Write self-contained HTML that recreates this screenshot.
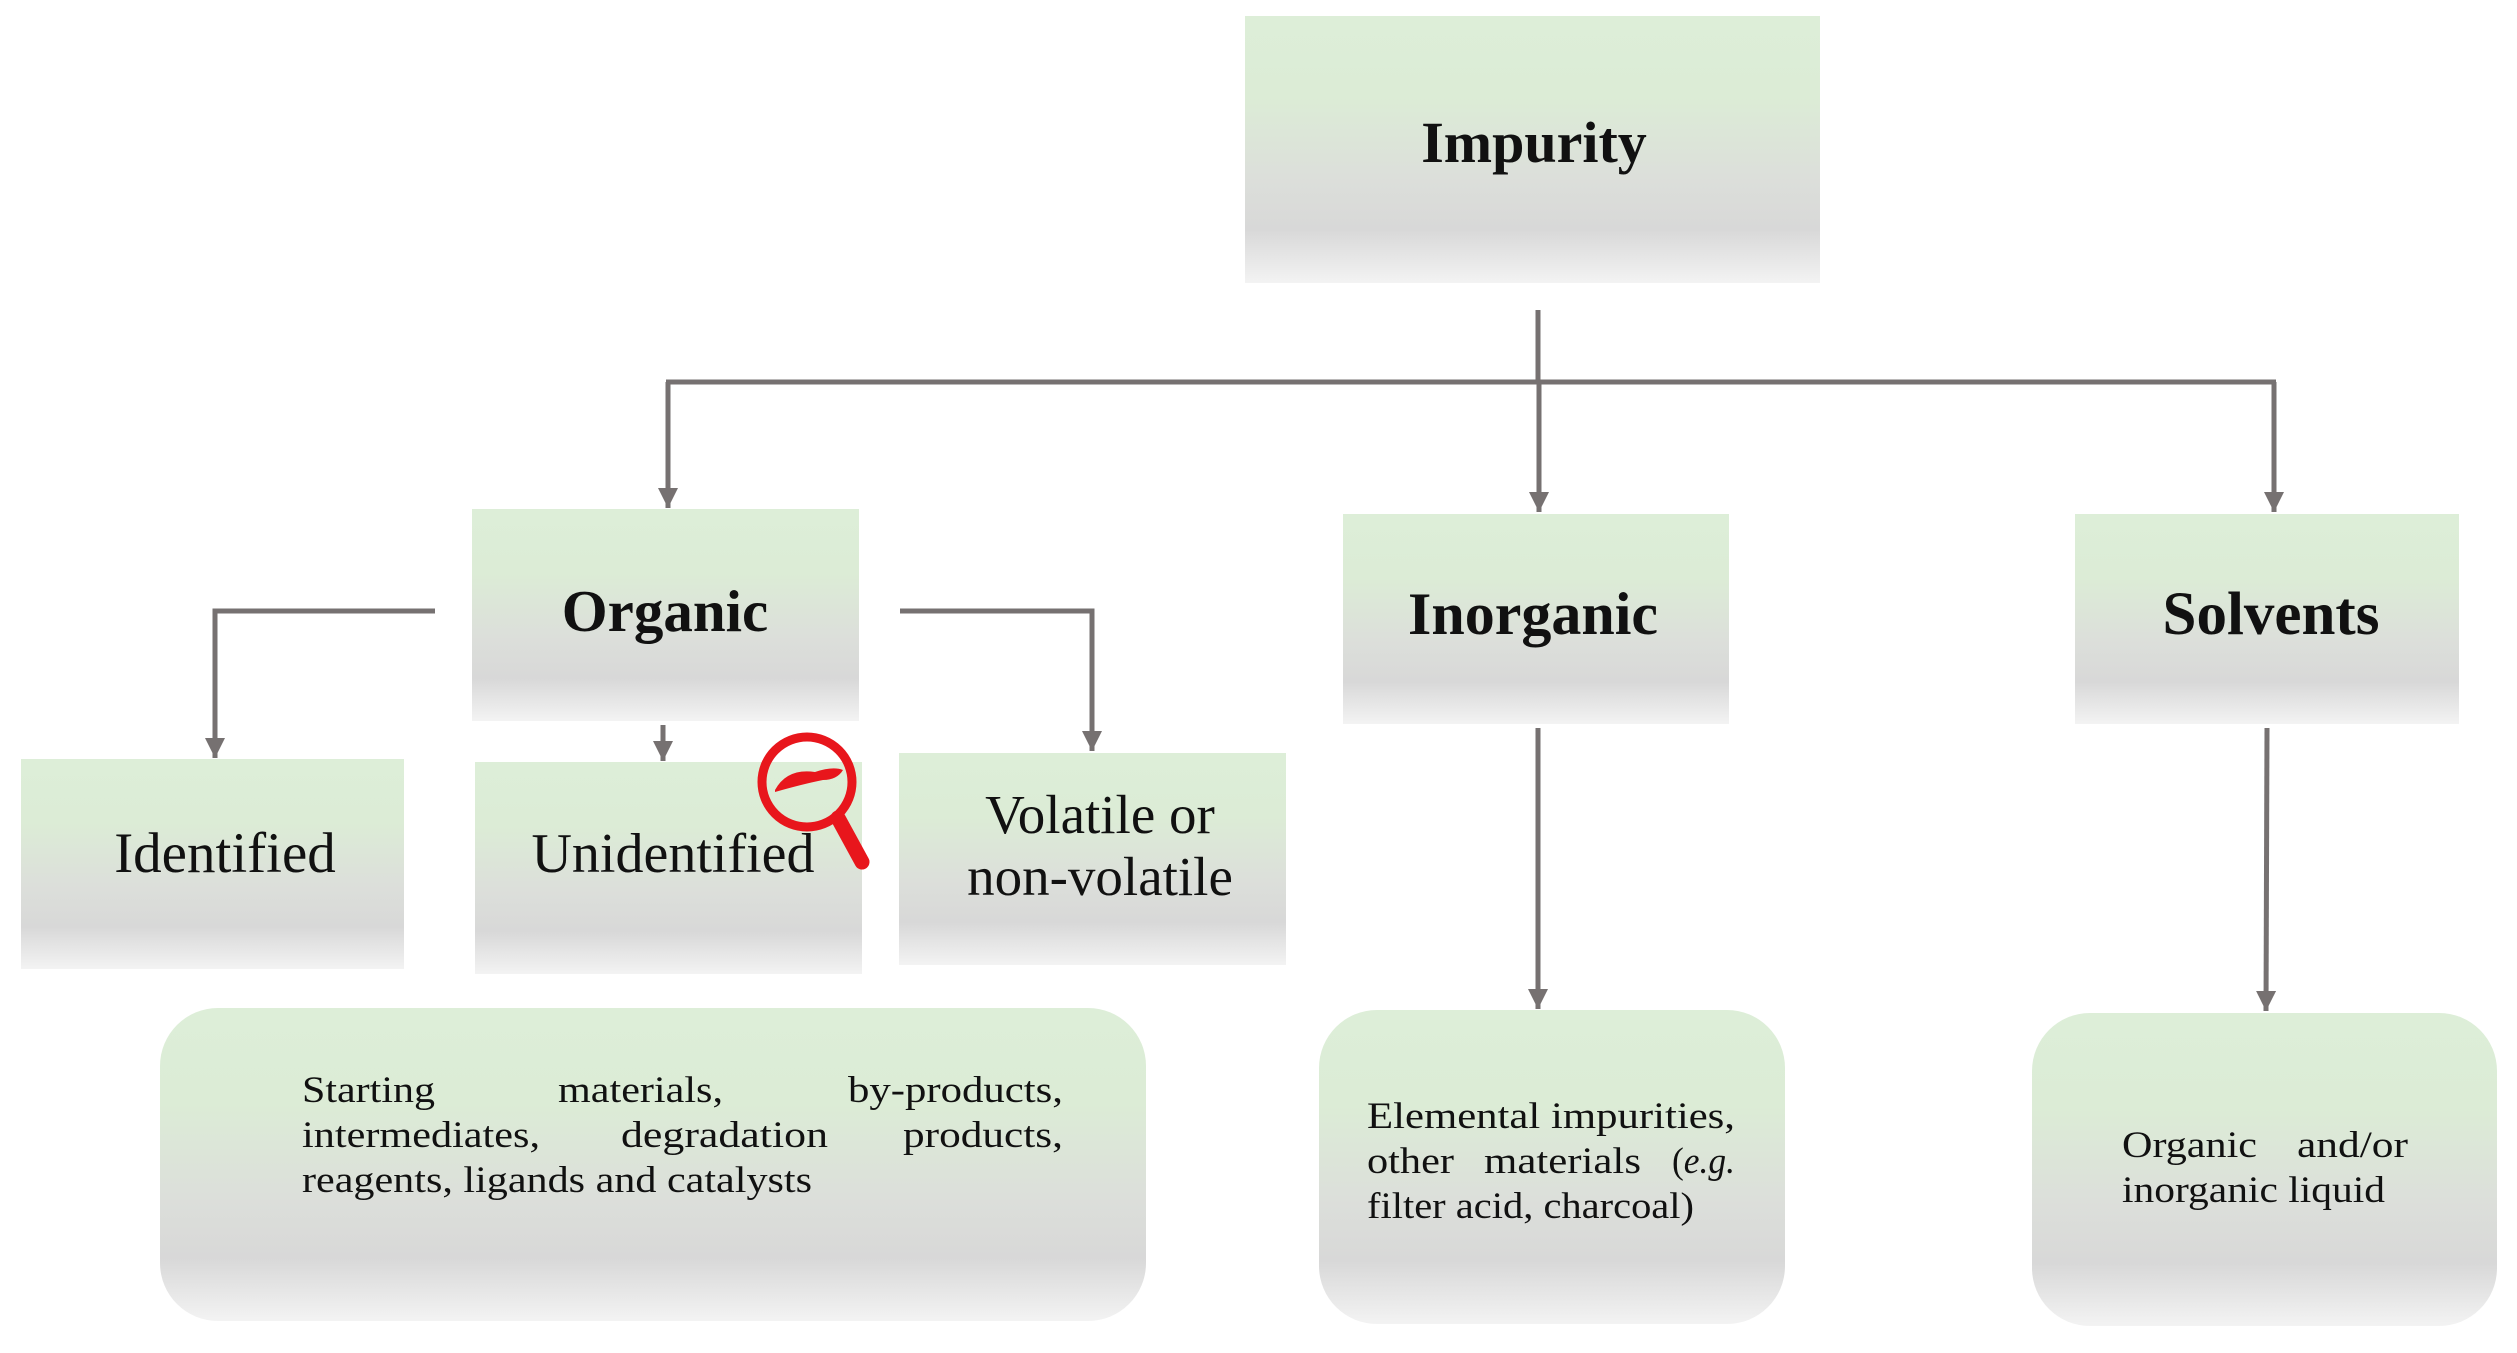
<!DOCTYPE html>
<html><head><meta charset="utf-8"><style>
html,body{margin:0;padding:0;background:#fff;}
svg{display:block;}
text{font-family:"Liberation Serif",serif;fill:#111;}
</style></head><body>
<svg width="2517" height="1353" viewBox="0 0 2517 1353" xmlns="http://www.w3.org/2000/svg">
<defs>
<linearGradient id="g" x1="0" y1="0" x2="0" y2="1">
<stop offset="0" stop-color="#ddeed8"/>
<stop offset="0.3" stop-color="#dcecd6"/>
<stop offset="0.6" stop-color="#dcdfda"/>
<stop offset="0.8" stop-color="#d8d8d8"/>
<stop offset="1" stop-color="#f3f3f3"/>
</linearGradient>
<marker id="a" viewBox="0 0 10 10" refX="10" refY="5" markerWidth="4" markerHeight="4" orient="auto" markerUnits="strokeWidth">
<path d="M0,0 L10,5 L0,10 z" fill="#767171"/>
</marker>
</defs>
<rect x="1245" y="16" width="575" height="267" fill="url(#g)"/>
<rect x="472" y="509" width="387" height="212" fill="url(#g)"/>
<rect x="1343" y="514" width="386" height="210" fill="url(#g)"/>
<rect x="2075" y="514" width="384" height="210" fill="url(#g)"/>
<rect x="21" y="759" width="383" height="210" fill="url(#g)"/>
<rect x="475" y="762" width="387" height="212" fill="url(#g)"/>
<rect x="899" y="753" width="387" height="212" fill="url(#g)"/>
<rect x="160" y="1008" width="986" height="313" rx="58" fill="url(#g)"/>
<rect x="1319" y="1010" width="466" height="314" rx="58" fill="url(#g)"/>
<rect x="2032" y="1013" width="465" height="313" rx="58" fill="url(#g)"/>
<g stroke="#767171" stroke-width="5" fill="none">
<line x1="1538" y1="310" x2="1538" y2="382"/>
<line x1="666" y1="382" x2="2276" y2="382"/>
<line x1="668" y1="382" x2="668" y2="508" marker-end="url(#a)"/>
<line x1="1539" y1="382" x2="1539" y2="512" marker-end="url(#a)"/>
<line x1="2274" y1="382" x2="2274" y2="512" marker-end="url(#a)"/>
<polyline points="435,611 215,611 215,758" marker-end="url(#a)"/>
<polyline points="900,611 1092,611 1092,751" marker-end="url(#a)"/>
<line x1="663" y1="725" x2="663" y2="761" marker-end="url(#a)"/>
<line x1="1538" y1="728" x2="1538" y2="1009" marker-end="url(#a)"/>
<line x1="2267" y1="728" x2="2266" y2="1011" marker-end="url(#a)"/>
</g>
<circle cx="807" cy="782" r="45" fill="none" stroke="#e8161c" stroke-width="9"/>
<line x1="838" y1="818" x2="862" y2="862" stroke="#e8161c" stroke-width="15" stroke-linecap="round"/>
<path d="M775,790 q12,-22 40,-18 q18,-6 28,-2 q-6,10 -20,10 q-20,4 -48,12 z" fill="#e8161c"/>
<g font-weight="bold" text-anchor="middle">
<text x="1534" y="162" font-size="58">Impurity</text>
<text x="665" y="631" font-size="59">Organic</text>
<text x="1533" y="634" font-size="60">Inorganic</text>
<text x="2271" y="634" font-size="61">Solvents</text>
</g>
<g text-anchor="middle">
<text x="225" y="872" font-size="57">Identified</text>
<text x="673" y="872" font-size="56">Unidentified</text>
<text x="1100" y="833" font-size="55">Volatile or</text>
<text x="1100" y="895" font-size="55">non-volatile</text>
</g>
<g font-size="37" lengthAdjust="spacingAndGlyphs">
<text x="302" y="1102" textLength="133" lengthAdjust="spacingAndGlyphs">Starting</text>
<text x="558" y="1102" textLength="165" lengthAdjust="spacingAndGlyphs">materials,</text>
<text x="848" y="1102" textLength="215" lengthAdjust="spacingAndGlyphs">by-products,</text>
<text x="302" y="1147" textLength="238" lengthAdjust="spacingAndGlyphs">intermediates,</text>
<text x="621" y="1147" textLength="207" lengthAdjust="spacingAndGlyphs">degradation</text>
<text x="903" y="1147" textLength="160" lengthAdjust="spacingAndGlyphs">products,</text>
<text x="302" y="1192" textLength="510" lengthAdjust="spacingAndGlyphs">reagents, ligands and catalysts</text>
<text x="1367" y="1128" textLength="368" lengthAdjust="spacingAndGlyphs">Elemental impurities,</text>
<text x="1367" y="1173" textLength="87" lengthAdjust="spacingAndGlyphs">other</text>
<text x="1484" y="1173" textLength="157" lengthAdjust="spacingAndGlyphs">materials</text>
<text x="1672" y="1173" textLength="63" lengthAdjust="spacingAndGlyphs">(<tspan font-style="italic">e.g.</tspan></text>
<text x="1367" y="1218" textLength="327" lengthAdjust="spacingAndGlyphs">filter acid, charcoal)</text>
<text x="2122" y="1157" textLength="135" lengthAdjust="spacingAndGlyphs">Organic</text>
<text x="2297" y="1157" textLength="111" lengthAdjust="spacingAndGlyphs">and/or</text>
<text x="2122" y="1202" textLength="263" lengthAdjust="spacingAndGlyphs">inorganic liquid</text>
</g>
</svg>
</body></html>
